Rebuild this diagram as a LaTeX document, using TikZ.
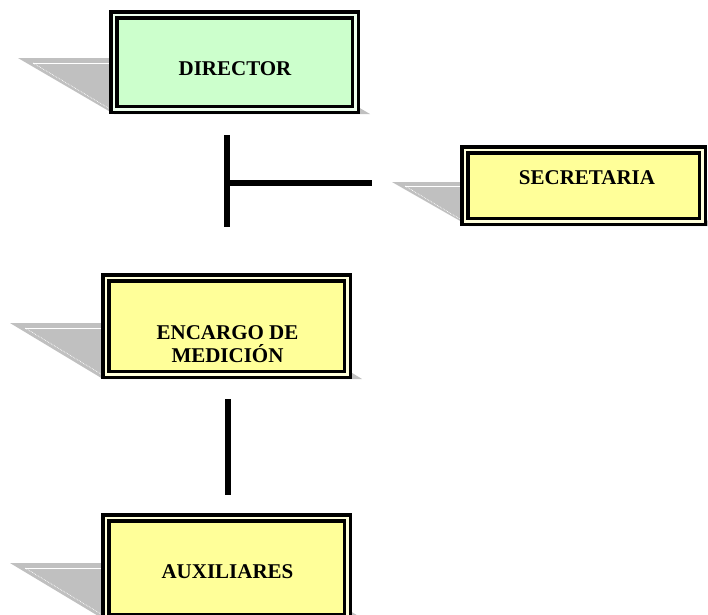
\documentclass[tikz,border=0pt]{standalone}
\usepackage{fontspec}
\setmainfont{Liberation Serif}
\begin{document}
\definecolor{dirgreen}{HTML}{CCFFCC}
\definecolor{unityellow}{HTML}{FFFF99}
\definecolor{shadowgray}{HTML}{C0C0C0}
\begin{tikzpicture}[x=1pt,y=-1pt,
  unitbox/.style={draw=black, line width=3.5pt, double distance=2.5pt,
    inner sep=0pt, outer sep=0pt},
  greenbox/.style={unitbox, fill=dirgreen, double=dirgreen!35!white},
  yellowbox/.style={unitbox, fill=unityellow, double=unityellow!35!white},
  shade3d/.style={fill=shadowgray, draw=none},
  edgelight/.style={draw=white, line width=0.7pt},
  unitlabel/.style={font=\fontsize{21}{23}\selectfont\bfseries, anchor=base, inner sep=0pt},
  link/.style={line width=6pt, line cap=butt}]
\useasboundingbox (0,0) rectangle (708,614);
\clip (0,0) rectangle (708,614);
\fill[white] (0,0) rectangle (708,614);

% slanted drop shadows behind the boxes
\path[shade3d] (18,58) -- (274,58) -- (370,114) -- (114,114) -- cycle;
\draw[edgelight] (33,63) -- (112,63);
\draw[edgelight, densely dotted] (33,63) -- (110,109);

\path[shade3d] (392,182) -- (620,182) -- (720,226) -- (469,226) -- cycle;
\draw[edgelight] (405,186) -- (462,186);
\draw[edgelight, densely dotted] (405,186) -- (460,219);

\path[shade3d] (10,323) -- (270,323) -- (362,379) -- (103,379) -- cycle;
\draw[edgelight] (25,328) -- (103,328);
\draw[edgelight, densely dotted] (25,328) -- (101,374);

\path[shade3d] (10,563) -- (270,563) -- (370,623) -- (110,623) -- cycle;
\draw[edgelight] (25,568) -- (103,568);
\draw[edgelight, densely dotted] (25,568) -- (101,614);

% boxes
\node[greenbox, minimum width=241.5pt, minimum height=94.5pt] (director) at (234.5,62) {};
\node[yellowbox, minimum width=237.5pt, minimum height=71.5pt] (secretaria) at (583.5,185.5) {};
\node[yellowbox, minimum width=241.5pt, minimum height=96.5pt] (encargo) at (226.5,326) {};
\node[yellowbox, minimum width=241.5pt, minimum height=100pt] (auxiliares) at (226.5,567.75) {};

% labels
\node[unitlabel] (lbldir) at (235,75) {DIRECTOR};
\node[unitlabel] (lblsec) at (587,184) {SECRETARIA};
\node[unitlabel] (lblenc1) at (227.5,339) {ENCARGO DE};
\node[unitlabel] (lblenc2) at (227.5,362) {MEDICIÓN};
\node[unitlabel] (lblaux) at (227.5,578) {AUXILIARES};

% connectors
\coordinate (ttop) at (227,135);
\coordinate (tbot) at (227,227);
\coordinate (tjoin) at (227,183);
\coordinate (tend) at (372,183);
\draw[link] (ttop) -- (tbot);
\draw[link] (tjoin) -- (tend);

\coordinate (vtop) at (228,399);
\coordinate (vbot) at (228,495);
\draw[link] (vtop) -- (vbot);
\end{tikzpicture}
\end{document}
